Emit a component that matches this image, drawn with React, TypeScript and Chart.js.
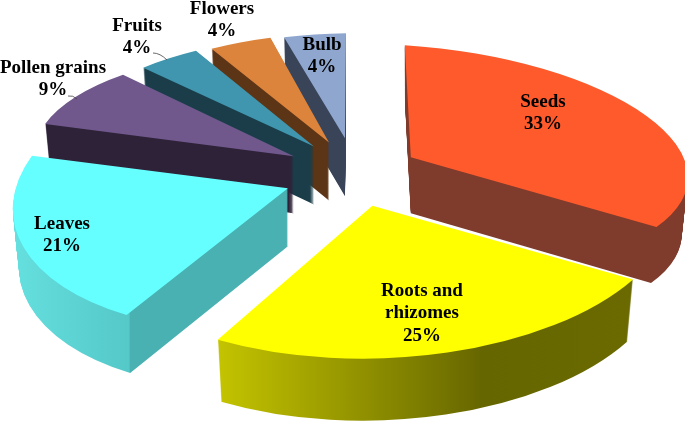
import React, { useEffect, useRef } from "react";
import { Chart, registerables, ArcElement } from "chart.js";

Chart.register(...registerables);

const categories = ["Seeds", "Roots and rhizomes", "Leaves", "Pollen grains", "Fruits", "Flowers", "Bulb"];
const shares = [33, 25, 21, 9, 4, 4, 4];
const topColors = ["#ff5a2b", "#ffff00", "#66ffff", "#70588c", "#3f96ae", "#dc843c", "#8fa7cf"];
const labelLines = [["Seeds", "33%"], ["Roots and", "rhizomes", "25%"], ["Leaves", "21%"], ["Pollen grains", "9%"], ["Fruits", "4%"], ["Flowers", "4%"], ["Bulb", "4%"]];

// Presentation of the 3D look (no data here)
const PIE_CENTRE = { x: 354, y: 174 };
const EXPLODE_SQUASH = 0.5;
const TAPER = 0.022;
const explode = [66, 66, 72, 70, 68, 68, 72];
const depth = [56, 62, 58, 57, 58, 58, 58];
const projection = [
  { ax: 277, ay: 18, bx: -6, by: -112 },
  { ax: 303, ay: 0, bx: 10, by: -153 },
  { ax: 273, ay: -3, bx: 34, by: -143 },
  { ax: 259, ay: 6, bx: 9, by: -106 },
  { ax: 256, ay: -3, bx: 6, by: -111 },
  { ax: 251, ay: -4, bx: 4, by: -109 },
  { ax: 249, ay: -3, bx: 1, by: -105 },
];
type Side = { x0: number; x1: number; stops: [number, string][] };
const sides: Side[] = [
  { x0: 0, x1: 685, stops: [[0, "#7f3b2c"], [1, "#7f3b2c"]] },
  { x0: 217, x1: 632, stops: [[0, "#c4c400"], [0.64, "#666600"], [1, "#6a6a00"]] },
  { x0: 9, x1: 288, stops: [[0, "#66e0e0"], [0.43, "#55c8c8"], [0.435, "#49b1b1"], [1, "#49b1b1"]] },
  { x0: 0, x1: 685, stops: [[0, "#2e2238"], [1, "#2e2238"]] },
  { x0: 0, x1: 685, stops: [[0, "#1a3d49"], [1, "#1a3d49"]] },
  { x0: 0, x1: 685, stops: [[0, "#5c3416"], [1, "#5c3416"]] },
  { x0: 0, x1: 685, stops: [[0, "#3a4459"], [1, "#3a4459"]] },
];
const paintOrder = [6, 5, 4, 3, 0, 2, 1];
const labelAnchors = [
  { x: 543, y: 102 }, { x: 422, y: 291 }, { x: 62, y: 224 }, { x: 53, y: 68 },
  { x: 137, y: 26 }, { x: 222, y: 9 }, { x: 322, y: 45 },
];
const LINE_HEIGHT = 22.5;
const leaders = [
  { from: [68, 96], via: [73, 95], to: [77, 99] },
  { from: [153, 53], via: [160, 53], to: [167, 60] },
];

function drawFace(ctx: CanvasRenderingContext2D, arc: any, fill: any) {
  const proxy = Object.create(arc, {
    options: {
      value: { backgroundColor: fill, borderColor: "transparent", borderWidth: 0, borderAlign: "center", offset: 0, spacing: 0, borderRadius: 0, circular: true },
      writable: true,
    },
  });
  ArcElement.prototype.draw.call(proxy, ctx);
}

const pie3d = {
  id: "pie3d",
  beforeDatasetsDraw(chart: any) {
    const ctx: CanvasRenderingContext2D = chart.ctx;
    const arcs = chart.getDatasetMeta(0).data;
    for (const i of paintOrder) {
      const arc = arcs[i];
      const R = arc.outerRadius;
      const p = projection[i];
      const mid = (arc.startAngle + arc.endAngle) / 2;
      const e = PIE_CENTRE.x + Math.cos(mid) * explode[i];
      const f = PIE_CENTRE.y + Math.sin(mid) * explode[i] * EXPLODE_SQUASH;
      const a = p.ax / R, b = p.ay / R, c = -p.bx / R, d = -p.by / R;
      const det = a * d - b * c;
      const toLocal = (sx: number, sy: number) => {
        const dx = sx - e, dy = sy - f;
        return { x: (d * dx - c * dy) / det + arc.x, y: (-b * dx + a * dy) / det + arc.y };
      };
      const side = sides[i];
      const v = { x: -c / det, y: a / det };
      const vv = v.x * v.x + v.y * v.y;
      for (let dz = depth[i]; dz >= 0; dz--) {
        // lower layers narrow a little in x, as a perspective view does
        const s = 1 - (TAPER * dz) / depth[i];
        const L1 = toLocal(e + (side.x0 - e) / s, f);
        const L2 = toLocal(e + (side.x1 - e) / s, f);
        const delta = { x: L2.x - L1.x, y: L2.y - L1.y };
        const k = (delta.x * v.x + delta.y * v.y) / vv;
        const g = { x: delta.x - k * v.x, y: delta.y - k * v.y };
        ctx.save();
        ctx.transform(a * s, b, c * s, d, e, f + dz);
        ctx.translate(-arc.x, -arc.y);
        const grad = ctx.createLinearGradient(L1.x, L1.y, L1.x + g.x, L1.y + g.y);
        side.stops.forEach(([o, col]) => grad.addColorStop(o, col));
        drawFace(ctx, arc, dz === 0 ? topColors[i] : grad);
        ctx.restore();
      }
    }
    return false;
  },
  afterDraw(chart: any) {
    const ctx: CanvasRenderingContext2D = chart.ctx;
    ctx.save();
    ctx.strokeStyle = "#444444";
    ctx.lineWidth = 0.8;
    for (const l of leaders) {
      ctx.beginPath();
      ctx.moveTo(l.from[0], l.from[1]);
      ctx.quadraticCurveTo(l.via[0], l.via[1], l.to[0], l.to[1]);
      ctx.stroke();
    }
    ctx.fillStyle = "#000000";
    ctx.font = 'bold 19px "Liberation Serif", serif';
    ctx.textAlign = "center";
    ctx.textBaseline = "middle";
    labelLines.forEach((lines, i) => {
      lines.forEach((t, n) => ctx.fillText(t, labelAnchors[i].x, labelAnchors[i].y + n * LINE_HEIGHT));
    });
    ctx.restore();
  },
};

export default function App() {
  const ref = useRef<HTMLCanvasElement>(null);
  useEffect(() => {
    const chart = new Chart(ref.current as HTMLCanvasElement, {
      type: "pie",
      data: {
        labels: categories,
        datasets: [{ data: shares, backgroundColor: topColors, borderWidth: 0 }],
      },
      options: {
        responsive: false,
        animation: false,
        devicePixelRatio: 1,
        events: [],
        plugins: { legend: { display: false }, tooltip: { enabled: false } },
      },
      plugins: [pie3d],
    } as any);
    return () => chart.destroy();
  }, []);
  return (
    <div style={{ position: "fixed", left: 0, top: 0, width: 685, height: 427, background: "#ffffff" }}>
      <canvas ref={ref} width={685} height={427} style={{ display: "block" }} />
    </div>
  );
}
